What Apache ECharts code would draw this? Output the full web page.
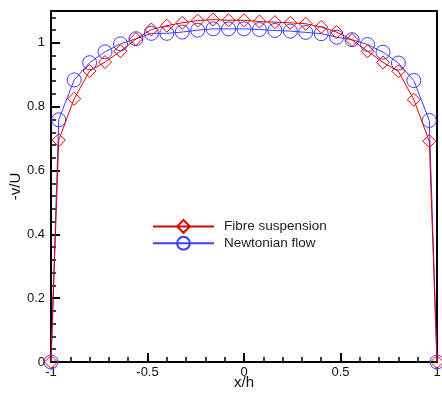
<!DOCTYPE html>
<html>
<head>
<meta charset="utf-8">
<script src="https://cdn.jsdelivr.net/npm/echarts@6/dist/echarts.min.js"></script>
<style>html,body{margin:0;padding:0;background:#fff}#c{width:442px;height:394px}</style>
</head>
<body>
<div id="c"></div>
<script>
const xPositions = [-1, -0.96, -0.88, -0.80, -0.72, -0.64, -0.56, -0.48, -0.40, -0.32, -0.24, -0.16, -0.08, 0, 0.08, 0.16, 0.24, 0.32, 0.40, 0.48, 0.56, 0.64, 0.72, 0.80, 0.88, 0.96, 1];
const fibreValues = [0, 0.695, 0.825, 0.912, 0.940, 0.974, 1.012, 1.042, 1.054, 1.063, 1.070, 1.073, 1.071, 1.071, 1.067, 1.065, 1.063, 1.060, 1.050, 1.034, 1.009, 0.974, 0.939, 0.911, 0.822, 0.692, 0];
const newtonianValues = [0, 0.759, 0.884, 0.938, 0.972, 0.997, 1.013, 1.030, 1.030, 1.034, 1.040, 1.044, 1.044, 1.044, 1.042, 1.039, 1.037, 1.033, 1.029, 1.018, 1.010, 0.995, 0.971, 0.937, 0.882, 0.757, 0];
const seriesNames = ['Fibre suspension', 'Newtonian flow'];
const xTickLabels = ['-1', '-0.5', '0', '0.5', '1'];
const yTickLabels = ['0', '0.2', '0.4', '0.6', '0.8', '1'];

const font = 'Liberation Sans, Arial, sans-serif';
const pair = (xs, ys) => xs.map((x, i) => [x, ys[i]]);

const chart = echarts.init(document.getElementById('c'), null, {renderer: 'canvas'});
chart.setOption({
  animation: false,
  backgroundColor: '#fff',
  grid: {left: 51, right: 5, top: 11, bottom: 32, outerBoundsMode: 'none', containLabel: false,
    show: true, borderColor: '#000', borderWidth: 2, backgroundColor: 'transparent'},
  legend: {
    left: 147, top: 214, orient: 'vertical', itemWidth: 61, itemHeight: 16, itemGap: 2,
    textStyle: {fontFamily: font, fontSize: 13.5, color: '#222', padding: [0, 0, 0, 5]},
    data: seriesNames
  },
  xAxis: [{
    type: 'value', min: -1, max: 1, interval: 0.5,
    name: 'x/h', nameLocation: 'middle', nameGap: 13, nameMoveOverlap: false,
    nameTextStyle: {fontFamily: font, fontSize: 15, color: '#111'},
    axisLine: {onZero: false, lineStyle: {color: '#000', width: 2}},
    axisTick: {inside: true, length: 9, lineStyle: {color: '#000', width: 2}},
    axisLabel: {fontFamily: font, fontSize: 13, color: '#111', margin: 4,
      formatter: v => { const i = Math.round((v + 1) / 0.5); return Math.abs(v - (-1 + i * 0.5)) < 1e-6 ? xTickLabels[i] : ''; }},
    splitLine: {show: false}
  }, {
    type: 'value', min: -1, max: 1, interval: 0.1, position: 'bottom',
    axisLine: {show: false, onZero: false},
    axisTick: {inside: true, length: 5, lineStyle: {color: '#000', width: 1.5}},
    axisLabel: {show: false}, splitLine: {show: false}
  }],
  yAxis: [{
    type: 'value', min: 0, max: 1.1, interval: 0.2, position: 'left',
    name: '-v/U', nameLocation: 'middle', nameGap: 28, nameMoveOverlap: false,
    nameTextStyle: {fontFamily: font, fontSize: 15, color: '#111'},
    axisLine: {onZero: false, lineStyle: {color: '#000', width: 2}},
    axisTick: {inside: true, length: 9, lineStyle: {color: '#000', width: 2}},
    axisLabel: {fontFamily: font, fontSize: 13, color: '#111', margin: 6,
      formatter: v => { const i = Math.round(v / 0.2); return (Math.abs(v - i * 0.2) < 1e-6 && i < yTickLabels.length) ? yTickLabels[i] : ''; }},
    splitLine: {show: false}
  }, {
    type: 'value', min: 0, max: 1.1, interval: 0.04, position: 'left',
    axisLine: {show: false, onZero: false},
    axisTick: {inside: true, length: 5, lineStyle: {color: '#000', width: 1.5}},
    axisLabel: {show: false}, splitLine: {show: false}
  }],
  series: [{
    name: seriesNames[0], type: 'line', xAxisIndex: 0, yAxisIndex: 0,
    data: pair(xPositions, fibreValues),
    symbol: 'diamond', symbolSize: [13, 13], showAllSymbol: true,
    lineStyle: {color: '#e00000', width: 1},
    itemStyle: {color: 'rgba(255,255,255,0)', borderColor: '#e00000', borderWidth: 1},
    z: 3
  }, {
    name: seriesNames[1], type: 'line', xAxisIndex: 0, yAxisIndex: 0,
    data: pair(xPositions, newtonianValues),
    symbol: 'circle', symbolSize: 14, showAllSymbol: true,
    lineStyle: {color: '#3c3cff', width: 1},
    itemStyle: {color: 'rgba(255,255,255,0)', borderColor: '#3c3cff', borderWidth: 1},
    z: 2
  }]
});
</script>
</body>
</html>
